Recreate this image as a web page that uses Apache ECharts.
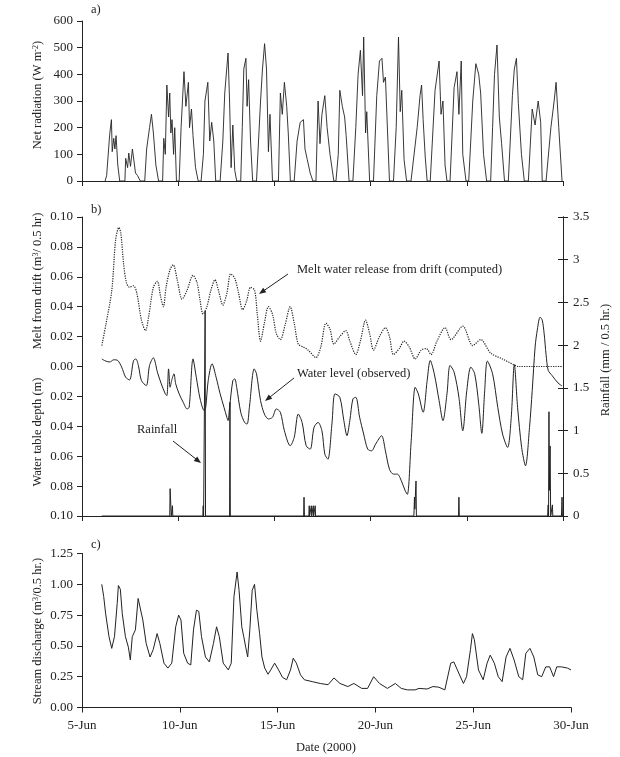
<!DOCTYPE html>
<html>
<head>
<meta charset="utf-8">
<script src="https://cdn.jsdelivr.net/npm/echarts@6/dist/echarts.min.js"></script>
<style>
  html, body { margin: 0; padding: 0; background: #fff; }
  #chart { width: 620px; height: 757px; }
</style>
</head>
<body>
<div id="chart"></div>
<script>
// x values are days after 5-Jun 00:00
var dateLabels = ['5-Jun', '10-Jun', '15-Jun', '20-Jun', '25-Jun', '30-Jun'];

// a) net radiation (W m-2)
var netRadiation = [
  [1.20,0],[1.28,20],[1.44,175],[1.53,230],[1.57,110],[1.65,160],[1.71,120],[1.77,170],[1.86,60],[1.96,0],
  [2.23,0],[2.27,85],[2.37,50],[2.43,105],[2.52,55],[2.62,120],[2.72,115],[2.78,30],[2.89,20],[3.03,0],
  [3.26,0],[3.36,120],[3.51,200],[3.61,250],[3.71,180],[3.84,60],[3.98,0],
  [4.19,0],[4.25,160],[4.33,100],[4.41,360],[4.50,240],[4.56,330],[4.62,180],[4.68,230],[4.76,100],[4.82,200],[4.91,0],
  [5.05,0],[5.15,200],[5.30,410],[5.40,280],[5.53,370],[5.59,200],[5.69,270],[5.77,170],[5.90,50],[6.04,0],
  [6.19,0],[6.31,100],[6.39,300],[6.54,370],[6.64,150],[6.74,220],[6.85,150],[6.95,0],
  [7.18,0],[7.32,150],[7.42,330],[7.59,480],[7.67,300],[7.75,50],[7.84,210],[7.94,40],[8.04,0],
  [8.25,0],[8.33,200],[8.41,420],[8.52,460],[8.58,280],[8.66,380],[8.76,150],[8.87,0],
  [9.07,0],[9.28,300],[9.38,420],[9.49,515],[9.59,420],[9.69,110],[9.77,250],[9.90,0],
  [10.21,0],[10.31,330],[10.41,250],[10.52,370],[10.64,280],[10.72,180],[10.83,0],
  [11.03,0],[11.18,150],[11.34,220],[11.51,230],[11.59,120],[11.71,80],[11.86,30],[12.00,0],
  [12.16,0],[12.27,300],[12.37,140],[12.47,250],[12.62,320],[12.74,200],[12.89,100],[13.09,0],
  [13.20,0],[13.32,100],[13.40,340],[13.53,280],[13.65,240],[13.73,170],[13.88,0],
  [14.08,0],[14.23,200],[14.35,400],[14.47,490],[14.58,320],[14.64,540],[14.74,180],[14.80,260],[14.95,0],
  [15.15,0],[15.32,320],[15.46,450],[15.59,460],[15.67,370],[15.77,390],[15.98,0],
  [16.19,0],[16.33,200],[16.45,540],[16.54,260],[16.62,340],[16.74,80],[16.87,0],
  [17.10,0],[17.42,200],[17.57,320],[17.65,360],[17.73,230],[17.84,90],[17.94,0],
  [18.10,0],[18.35,340],[18.56,450],[18.66,250],[18.76,300],[18.87,60],[18.97,0],
  [19.13,0],[19.34,350],[19.49,410],[19.59,250],[19.71,450],[19.79,100],[19.96,0],
  [20.10,0],[20.31,300],[20.47,440],[20.62,400],[20.72,330],[20.87,100],[21.03,0],
  [21.24,0],[21.34,200],[21.44,400],[21.57,510],[21.69,240],[21.81,140],[21.96,0],
  [22.16,0],[22.37,320],[22.47,420],[22.58,460],[22.68,290],[22.84,100],[22.99,0],
  [23.20,0],[23.40,270],[23.55,210],[23.71,300],[23.84,220],[23.92,0],
  [24.12,0],[24.37,200],[24.54,300],[24.64,370],[24.78,200],[24.95,0]
];

// b) melt water release from drift (m3 / 0.5 hr), computed
var meltRelease = [
  [1.03,0.014],[1.24,0.028],[1.55,0.051],[1.75,0.085],[1.92,0.093],[2.02,0.089],[2.16,0.069],[2.31,0.056],
  [2.47,0.053],[2.68,0.054],[2.85,0.049],[3.09,0.031],[3.30,0.024],[3.46,0.033],[3.71,0.053],[3.92,0.057],
  [4.08,0.047],[4.23,0.040],[4.37,0.053],[4.58,0.065],[4.74,0.068],[4.95,0.058],[5.20,0.045],[5.46,0.051],
  [5.77,0.061],[5.98,0.056],[6.14,0.044],[6.29,0.035],[6.49,0.040],[6.70,0.051],[6.91,0.058],[7.11,0.050],
  [7.32,0.041],[7.53,0.049],[7.73,0.062],[7.94,0.059],[8.14,0.049],[8.35,0.038],[8.56,0.044],[8.76,0.053],
  [8.97,0.051],[9.11,0.035],[9.28,0.017],[9.48,0.029],[9.69,0.040],[9.90,0.035],[10.10,0.022],[10.31,0.018],
  [10.56,0.028],[10.82,0.040],[11.03,0.029],[11.24,0.015],[11.51,0.013],[11.75,0.011],[12.16,0.006],[12.41,0.013],
  [12.68,0.029],[12.89,0.025],[13.09,0.015],[13.40,0.020],[13.71,0.024],[13.92,0.017],[14.23,0.008],[14.47,0.017],
  [14.74,0.031],[14.95,0.022],[15.15,0.011],[15.46,0.020],[15.77,0.026],[15.98,0.020],[16.19,0.008],[16.49,0.012],
  [16.74,0.017],[17.01,0.013],[17.32,0.005],[17.63,0.011],[17.90,0.012],[18.14,0.008],[18.45,0.017],[18.87,0.026],
  [19.18,0.018],[19.79,0.027],[20.31,0.014],[20.72,0.018],[21.24,0.009],[21.86,0.005],[22.47,0.001],[22.68,0],
  [24.95,0]
];

// b) water table depth (m), observed; negative = above reference level
var waterDepth = [
  [1.03,-0.005],[1.24,-0.0036],[1.44,-0.003],[1.65,-0.0045],[1.86,-0.004],[2.06,0.0004],[2.27,0.0072],[2.47,0.009],
  [2.68,-0.004],[2.80,-0.005],[2.93,-0.0007],[3.09,0.0094],[3.34,0.0128],[3.51,-0.0007],[3.71,-0.0058],[3.92,0.0038],
  [4.12,0.0116],[4.33,0.0183],[4.41,0.0195],[4.50,0.0016],[4.58,0.0139],[4.66,0.0094],[4.78,0.0049],[4.87,0.0116],
  [5.05,0.0183],[5.26,0.0239],[5.46,0.0284],[5.57,0.0273],[5.77,-0.0051],[5.94,0.0072],[6.14,0.0217],[6.35,0.0295],
  [6.43,0.0273],[6.56,0.0094],[6.76,-0.0018],[6.97,0.0072],[7.18,0.0183],[7.38,0.0273],[7.53,0.034],[7.59,0.0362],
  [7.67,0.0273],[7.84,0.0094],[7.94,0.0083],[8.04,0.0139],[8.25,0.0306],[8.45,0.0374],[8.58,0.0385],[8.70,0.0273],
  [8.95,0.0016],[9.07,0.0049],[9.28,0.0228],[9.48,0.0318],[9.69,0.0351],[9.90,0.034],[10.10,0.0284],[10.31,0.0306],
  [10.52,0.043],[10.82,0.053],[11.03,0.0474],[11.24,0.0318],[11.44,0.0374],[11.65,0.053],[11.86,0.0553],[12.06,0.0407],
  [12.27,0.0374],[12.47,0.043],[12.62,0.0586],[12.78,0.062],[12.99,0.0385],[13.15,0.0183],[13.40,0.0206],[13.61,0.0362],
  [13.77,0.0463],[13.92,0.0362],[14.08,0.0217],[14.23,0.0206],[14.43,0.034],[14.64,0.0452],[14.85,0.0553],[15.05,0.0564],
  [15.26,0.0519],[15.57,0.0463],[15.77,0.0564],[15.98,0.0687],[16.19,0.072],[16.39,0.072],[16.60,0.0765],[16.80,0.0832],
  [16.91,0.0855],[17.11,0.0497],[17.32,0.0139],[17.48,0.0183],[17.73,0.0306],[17.94,0.0094],[18.10,-0.004],[18.31,0.0049],
  [18.56,0.0228],[18.76,0.0362],[18.97,0.0183],[19.13,-0.0007],[19.34,0.0038],[19.59,0.0206],[19.79,0.043],[20.00,0.0161],
  [20.21,0.0004],[20.41,0.0049],[20.62,0.025],[20.78,0.0447],[20.93,0.0161],[21.07,-0.0036],[21.34,0.0049],[21.61,0.0273],
  [21.86,0.0452],[22.12,0.0541],[22.31,0.034],[22.47,-0.0013],[22.64,0.0273],[22.85,0.0541],[23.05,0.0664],[23.26,0.0407],
  [23.40,0.0161],[23.55,-0.013],[23.67,-0.025],[23.81,-0.033],[23.92,-0.031],[24.02,-0.022],[24.12,-0.008],[24.23,0.0025],
  [24.43,0.006],[24.74,0.011],[24.95,0.013]
];

// b) rainfall (mm / 0.5 hr)
var rainfall = [
  [1.03,0],[4.56,0],[4.58,0.32],[4.62,0.32],[4.64,0],[4.70,0.12],[4.72,0],
  [6.28,0],[6.30,0.12],[6.32,0],[6.38,0],[6.40,2.4],[6.42,0],[7.67,0],[7.69,1.33],[7.71,0],
  [11.52,0],[11.54,0.22],[11.56,0],[11.79,0],[11.81,0.12],[11.83,0],[11.90,0],[11.92,0.12],[11.94,0],
  [12.00,0],[12.02,0.12],[12.04,0],[12.10,0],[12.12,0.12],[12.14,0],
  [17.25,0],[17.28,0.22],[17.30,0.08],[17.36,0.41],[17.38,0],[19.57,0],[19.59,0.22],[19.61,0],
  [24.20,0],[24.23,0.13],[24.25,0],[24.27,1.22],[24.29,0.3],[24.33,0.82],[24.36,0],[24.45,0.13],[24.47,0],
  [24.92,0],[24.95,0.22],[24.97,0],[25,0]
];

// c) stream discharge (m3 / 0.5 hr)
var discharge = [
  [1.01,1.00],[1.11,0.90],[1.21,0.76],[1.38,0.575],[1.52,0.48],[1.66,0.575],[1.80,0.845],[1.86,0.99],[1.96,0.96],
  [2.06,0.76],[2.22,0.575],[2.37,0.49],[2.47,0.386],[2.57,0.575],[2.73,0.63],[2.87,0.885],[2.97,0.87],[3.11,0.71],
  [3.28,0.52],[3.48,0.41],[3.64,0.47],[3.84,0.60],[3.98,0.52],[4.19,0.36],[4.39,0.32],[4.59,0.36],[4.79,0.655],
  [4.94,0.75],[5.06,0.71],[5.20,0.44],[5.40,0.36],[5.56,0.345],[5.70,0.63],[5.85,0.79],[5.97,0.78],[6.11,0.575],
  [6.31,0.41],[6.51,0.37],[6.72,0.52],[6.88,0.655],[7.02,0.575],[7.22,0.36],[7.48,0.305],[7.63,0.36],[7.77,0.90],
  [7.93,1.10],[8.03,0.95],[8.17,0.655],[8.27,0.575],[8.37,0.49],[8.47,0.41],[8.58,0.63],[8.70,0.95],[8.82,1.00],
  [8.94,0.79],[9.08,0.60],[9.20,0.41],[9.34,0.32],[9.51,0.27],[9.65,0.305],[9.85,0.36],[10.05,0.305],[10.25,0.245],
  [10.46,0.225],[10.66,0.305],[10.80,0.40],[10.96,0.36],[11.17,0.265],[11.37,0.225],[11.77,0.21],[12.18,0.195],
  [12.58,0.185],[12.88,0.24],[13.19,0.195],[13.59,0.17],[13.90,0.195],[14.30,0.155],[14.60,0.155],[14.91,0.25],
  [15.21,0.195],[15.61,0.155],[16.02,0.195],[16.32,0.155],[16.63,0.143],[17.03,0.143],[17.23,0.155],[17.64,0.15],
  [17.94,0.17],[18.24,0.165],[18.55,0.143],[18.65,0.155],[18.85,0.36],[19.01,0.37],[19.26,0.28],[19.50,0.195],
  [19.66,0.25],[19.86,0.47],[19.96,0.60],[20.06,0.55],[20.27,0.305],[20.51,0.225],[20.71,0.36],[20.87,0.425],
  [21.08,0.36],[21.28,0.25],[21.48,0.21],[21.68,0.41],[21.88,0.48],[22.09,0.386],[22.33,0.25],[22.53,0.225],
  [22.69,0.44],[22.90,0.48],[23.10,0.41],[23.30,0.265],[23.50,0.25],[23.71,0.33],[23.91,0.33],[24.11,0.25],
  [24.27,0.33],[24.51,0.33],[24.82,0.32],[25.00,0.305]
];

var FONT = 'Liberation Serif';
var INK = '#222';

function xAxisFor(gi, showLabels) {
  return {
    type: 'value', gridIndex: gi, min: 0, max: 25, interval: 5,
    axisLine: { onZero: false, lineStyle: { color: INK, width: 1 } },
    axisTick: { length: 5, lineStyle: { color: INK } },
    splitLine: { show: false },
    axisLabel: {
      show: showLabels, margin: 12, color: INK, fontFamily: FONT, fontSize: 13,
      formatter: function (v) { return dateLabels[Math.round(v / 5)]; }
    }
  };
}

function yAxisFor(gi, min, max, interval, fmt) {
  return {
    type: 'value', gridIndex: gi, min: min, max: max, interval: interval,
    axisLine: { show: true, lineStyle: { color: INK, width: 1 } },
    axisTick: { show: true, length: 5, lineStyle: { color: INK } },
    splitLine: { show: false },
    axisLabel: { margin: 9, color: INK, fontFamily: FONT, fontSize: 13, formatter: fmt }
  };
}

function arrow(x1, y1, x2, y2) {
  var a = Math.atan2(y2 - y1, x2 - x1), L = 7, W = 2.8;
  var c = Math.cos(a), s = Math.sin(a);
  return [
    { type: 'line', shape: { x1: x1, y1: y1, x2: x2 - L * 0.6 * c, y2: y2 - L * 0.6 * s },
      style: { stroke: INK, lineWidth: 1 } },
    { type: 'polygon', shape: { points: [[x2, y2], [x2 - L * c + W * s, y2 - L * s - W * c], [x2 - L * c - W * s, y2 - L * s + W * c]] },
      style: { fill: INK } }
  ];
}

function label(text, x, y, opts) {
  opts = opts || {};
  return {
    type: 'text', x: x, y: y, rotation: opts.rotation || 0,
    style: {
      text: text, fill: INK, font: (opts.size || 12.5) + 'px "' + FONT + '"',
      align: opts.align || 'left', verticalAlign: 'middle',
      rich: {
        n: { fontFamily: FONT, fontSize: opts.size || 12.5, fill: INK },
        sup: { fontFamily: FONT, fontSize: 8, fill: INK, verticalAlign: 'top', padding: [0, 0, 5, 0] }
      }
    }
  };
}

var chart = echarts.init(document.getElementById('chart'), null, { renderer: 'canvas' });

var rightInner = yAxisFor(1, 0, 3.5, 0.5);
rightInner.position = 'right';
rightInner.axisTick.inside = true;
rightInner.axisLabel = { show: false };

var rightOuter = yAxisFor(1, 0, 3.5, 0.5);
rightOuter.position = 'right';
rightOuter.axisLabel.margin = 10;

var graphics = [
  label('a)', 91, 10),
  label('b)', 91, 210),
  label('c)', 91, 545),
  label('{n|Net radiation (W m}{sup|-2}{n|)}', 38, 95, { rotation: Math.PI / 2, align: 'center' }),
  label('{n|Melt from drift (m}{sup|3}{n|/ 0.5 hr)}', 38, 281, { rotation: Math.PI / 2, align: 'center' }),
  label('Water table depth (m)', 38, 432, { rotation: Math.PI / 2, align: 'center' }),
  label('Rainfall (mm / 0.5 hr.)', 606, 360, { rotation: Math.PI / 2, align: 'center' }),
  label('{n|Stream discharge (m}{sup|3}{n|/0.5 hr.)}', 38, 631, { rotation: Math.PI / 2, align: 'center' }),
  label('Date (2000)', 326, 748, { align: 'center' }),
  label('Melt water release from drift (computed)', 297, 270),
  label('Water level (observed)', 297, 374),
  label('Rainfall', 137, 430)
].concat(arrow(288, 274, 259, 294), arrow(294, 378, 265, 401), arrow(173, 441, 201, 463));

chart.setOption({
  animation: false,
  backgroundColor: '#fff',
  grid: [
    { left: 82, right: 57, top: 21, height: 160 },
    { left: 82, right: 57, top: 217, height: 299 },
    { left: 82, right: 49, top: 553.5, height: 154 }
  ],
  xAxis: [xAxisFor(0, false), xAxisFor(1, false), xAxisFor(2, true)],
  yAxis: [
    yAxisFor(0, 0, 600, 100),
    yAxisFor(1, -0.1, 0.1, 0.02, function (v) { return Math.abs(v).toFixed(2); }),
    rightOuter,
    rightInner,
    yAxisFor(2, 0, 1.25, 0.25, function (v) { return v.toFixed(2); })
  ],
  series: [
    { name: 'Net radiation', type: 'line', xAxisIndex: 0, yAxisIndex: 0, data: netRadiation,
      showSymbol: false, lineStyle: { color: INK, width: 0.9 } },
    { name: 'Melt water release', type: 'line', xAxisIndex: 1, yAxisIndex: 1, data: meltRelease,
      showSymbol: false, smooth: 0.3, lineStyle: { color: INK, width: 1.2, type: 'dotted' } },
    { name: 'Water level', type: 'line', xAxisIndex: 1, yAxisIndex: 1,
      data: waterDepth.map(function (p) { return [p[0], -p[1]]; }),
      showSymbol: false, smooth: 0.3, lineStyle: { color: INK, width: 1 } },
    { name: 'Rainfall', type: 'line', xAxisIndex: 1, yAxisIndex: 2, data: rainfall,
      showSymbol: false, lineStyle: { color: INK, width: 1 } },
    { name: 'Stream discharge', type: 'line', xAxisIndex: 2, yAxisIndex: 4, data: discharge,
      showSymbol: false, lineStyle: { color: INK, width: 1 } }
  ],
  graphic: graphics
});
</script>
</body>
</html>
